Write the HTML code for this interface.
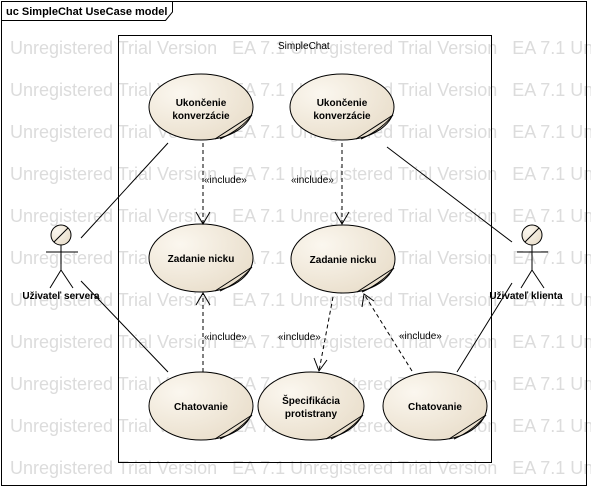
<!DOCTYPE html><html><head><meta charset="utf-8"><style>
body{margin:0;background:#fff;width:591px;height:487px;overflow:hidden;font-family:"Liberation Sans",sans-serif}
</style></head><body>
<svg width="591" height="487" xmlns="http://www.w3.org/2000/svg" font-family="Liberation Sans, sans-serif">
<defs>
<radialGradient id="g" cx="0.3" cy="0.3" r="0.8"><stop offset="0" stop-color="#fbf7ef"/><stop offset="1" stop-color="#e9decb"/></radialGradient>
</defs>
<g fill="#dcdcdc" font-size="18" xml:space="preserve">
<text x="10" y="54" xml:space="preserve">Unregistered Trial Version   EA 7.1 Unregistered Trial Version   EA 7.1 Unregistered</text>
<text x="10" y="96" xml:space="preserve">Unregistered Trial Version   EA 7.1 Unregistered Trial Version   EA 7.1 Unregistered</text>
<text x="10" y="138" xml:space="preserve">Unregistered Trial Version   EA 7.1 Unregistered Trial Version   EA 7.1 Unregistered</text>
<text x="10" y="180" xml:space="preserve">Unregistered Trial Version   EA 7.1 Unregistered Trial Version   EA 7.1 Unregistered</text>
<text x="10" y="222" xml:space="preserve">Unregistered Trial Version   EA 7.1 Unregistered Trial Version   EA 7.1 Unregistered</text>
<text x="10" y="264" xml:space="preserve">Unregistered Trial Version   EA 7.1 Unregistered Trial Version   EA 7.1 Unregistered</text>
<text x="10" y="306" xml:space="preserve">Unregistered Trial Version   EA 7.1 Unregistered Trial Version   EA 7.1 Unregistered</text>
<text x="10" y="348" xml:space="preserve">Unregistered Trial Version   EA 7.1 Unregistered Trial Version   EA 7.1 Unregistered</text>
<text x="10" y="390" xml:space="preserve">Unregistered Trial Version   EA 7.1 Unregistered Trial Version   EA 7.1 Unregistered</text>
<text x="10" y="432" xml:space="preserve">Unregistered Trial Version   EA 7.1 Unregistered Trial Version   EA 7.1 Unregistered</text>
<text x="10" y="474" xml:space="preserve">Unregistered Trial Version   EA 7.1 Unregistered Trial Version   EA 7.1 Unregistered</text>
</g>
<g fill="none" stroke="#000" stroke-width="1">
<rect x="1.5" y="1.5" width="585" height="484"/>
<path d="M1.5 20.5H165.5L172.5 12V1.5"/>
<rect x="118.5" y="35.5" width="373" height="427"/>
</g>
<text x="6" y="15" font-size="11" font-weight="bold">uc SimpleChat UseCase model</text>
<text x="278" y="49" font-size="10">SimpleChat</text>
<g stroke="#000" fill="url(#g)">
<ellipse cx="201" cy="107" rx="52" ry="33"/>
<ellipse cx="342" cy="107" rx="52" ry="33"/>
<ellipse cx="201" cy="258" rx="52" ry="34"/>
<ellipse cx="343" cy="259" rx="52" ry="34"/>
<ellipse cx="201" cy="406" rx="52" ry="34"/>
<ellipse cx="311" cy="406" rx="53" ry="34"/>
<ellipse cx="435" cy="406" rx="52" ry="34"/>
</g>
<g stroke="#000" fill="none">
<path d="M252 115L215 139M252 115Q240 130 220 139"/>
<path d="M393 115L356 139M393 115Q381 130 361 139"/>
<path d="M252 267L215 291M252 267Q240 282 220 291"/>
<path d="M394 268L357 292M394 268Q382 283 362 292"/>
<path d="M252 415L215 439M252 415Q240 430 220 439"/>
<path d="M363 415L326 439M363 415Q351 430 331 439"/>
<path d="M486 415L449 439M486 415Q474 430 454 439"/>
</g>
<g font-size="10" font-weight="bold" text-anchor="middle">
<text x="201" y="106">Ukončenie</text><text x="201" y="119">konverzácie</text>
<text x="342" y="106">Ukončenie</text><text x="342" y="119">konverzácie</text>
<text x="201" y="262">Zadanie nicku</text>
<text x="343" y="263">Zadanie nicku</text>
<text x="201" y="410">Chatovanie</text>
<text x="311" y="404">Špecifikácia</text><text x="311" y="417">protistrany</text>
<text x="435" y="410">Chatovanie</text>
<text x="61" y="299">Uživateľ servera</text>
<text x="526" y="299">Uživateľ klienta</text>
</g>
<g stroke="#000" fill="none">
<circle cx="61" cy="235" r="10" fill="url(#g)"/>
<path d="M54 242L68 228"/>
<path d="M61 245V270M46 252H78M61 270L50 288M61 270L73 288"/>
<circle cx="532" cy="235" r="10" fill="url(#g)"/>
<path d="M525 242L539 228"/>
<path d="M532 245V270M517 252H548M532 270L521 288M532 270L544 288"/>
<path d="M81 238L168 143M81 281L168 372M387 147L512 242M457 372L512 283"/>
<g stroke-dasharray="4,3">
<path d="M203 143V224M342 143V224M203 372V293M333 297L319 371M412 371L364 294"/>
</g>
<path d="M196 212L203 224L210 212M335 212L342 224L349 212M196 305L203 293L210 305M314 358L319 371L327 360M362 307L364 294L374 301"/>
</g>
<g font-size="10">
<text x="204" y="183">«include»</text>
<text x="291" y="183">«include»</text>
<text x="204" y="340">«include»</text>
<text x="278" y="340">«include»</text>
<text x="399" y="339">«include»</text>
</g>
</svg>
</body></html>
